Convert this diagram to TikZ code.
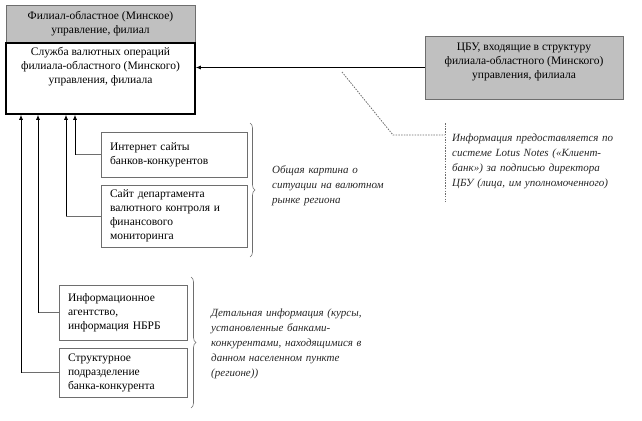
\documentclass[tikz,border=0pt]{standalone}
\usepackage{fontspec}
\setmainfont{Liberation Serif}
\usetikzlibrary{arrows.meta,decorations.pathreplacing}
\definecolor{boxgray}{HTML}{C0C0C0}
\definecolor{linegray}{HTML}{6E6E6E}
\begin{document}
\begin{tikzpicture}[x=1pt,y=-1pt,
  font=\fontsize{11.5}{14}\selectfont,
  infobox/.style={draw=linegray, line width=0.8pt, fill=white, inner sep=0pt, align=left},
  grayhead/.style={draw=linegray, line width=0.8pt, fill=boxgray, inner sep=0pt},
  conn/.style={draw=linegray, line width=0.8pt},
  arr/.style={-{Latex[length=5pt,width=4pt]}, black},
  note/.style={font=\fontsize{11}{15}\selectfont\itshape, align=left, anchor=base west, inner sep=0pt, text=black!85},
  bracestyle/.style={draw=linegray, line width=0.6pt, decorate, decoration={brace, amplitude=5pt}},
  dashline/.style={draw=linegray, line width=0.8pt, dash pattern=on 1.5pt off 1.2pt}
]
\useasboundingbox (0,0) rectangle (642,420);

% top gray header
\node[grayhead, minimum width=189, minimum height=38] (head) at (100.5,24) {};
\node[align=center, inner sep=0pt] (headtext) at (100.5,23.5) {Филиал-областное (Минское)\\управление, филиал};

% main box
\node[draw=black, line width=1.6pt, fill=white, minimum width=189, minimum height=71, inner sep=0pt] (main) at (100.5,78.5) {};
\node[align=center, inner sep=0pt] (maintext) at (100.5,66.5) {Служба валютных операций\\филиала-областного (Минского)\\управления, филиала};

% CBU box
\node[grayhead, minimum width=198, minimum height=63] (cbu) at (524,67.5) {};
\node[align=center, inner sep=0pt] (cbutext) at (524,62) {ЦБУ, входящие в структуру\\филиала-областного (Минского)\\управления, филиала};

% info boxes
\node[infobox, minimum width=146, minimum height=45, text width=128] (b1) at (174,154.5) {Интернет сайты\\банков-конкурентов};
\node[infobox, minimum width=146, minimum height=62, text width=128] (b2) at (174,216) {Сайт департамента\\валютного контроля и\\финансового\\мониторинга};
\node[infobox, minimum width=128, minimum height=55, text width=110] (b3) at (123,312.5) {Информационное\\агентство,\\информация НБРБ};
\node[infobox, minimum width=128, minimum height=49, text width=110] (b4) at (123,372.5) {Структурное\\подразделение\\банка-конкурента};

% connectors
\draw[conn, arr] (cbu.west) -- (cbu.west -| main.east);
\draw[conn] (b1.west) -- (75,0 |- b1.west) coordinate (c1);
\draw[conn, arr] (c1) -- (c1 |- main.south);
\draw[conn] (b2.west) -- (66,0 |- b2.west) coordinate (c2);
\draw[conn, arr] (c2) -- (c2 |- main.south);
\draw[conn] (b3.west) -- (38,0 |- b3.west) coordinate (c3);
\draw[conn, arr] (c3) -- (c3 |- main.south);
\draw[conn] (b4.west) -- (21,0 |- b4.west) coordinate (c4);
\draw[conn, arr] (c4) -- (c4 |- main.south);

% dashed callout
\coordinate (dstart) at (342,72);
\coordinate (dbend) at (393,135);
\coordinate (dend) at (445,135);
\coordinate (vtop) at (445,123);
\coordinate (vbot) at (445,202);
\draw[dashline] (dstart) -- (dbend) -- (dend);
\draw[dashline] (vtop) -- (vbot);

% braces
\draw[bracestyle] (250,123) -- (250,257);
\draw[bracestyle] (191,277) -- (191,408);

% notes
\node[note, text width=130] (n1) at (272,173) {Общая картина о\\ситуации на валютном\\рынке региона};
\node[note, text width=180] (n2) at (211,316) {Детальная информация (курсы,\\установленные банками-\\конкурентами, находящимися в\\данном населенном пункте\\(регионе))};
\node[note, text width=185] (n3) at (452,141) {Информация предоставляется по\\системе Lotus Notes («Клиент-\\банк») за подписью директора\\ЦБУ (лица, им уполномоченного)};
\end{tikzpicture}
\end{document}
